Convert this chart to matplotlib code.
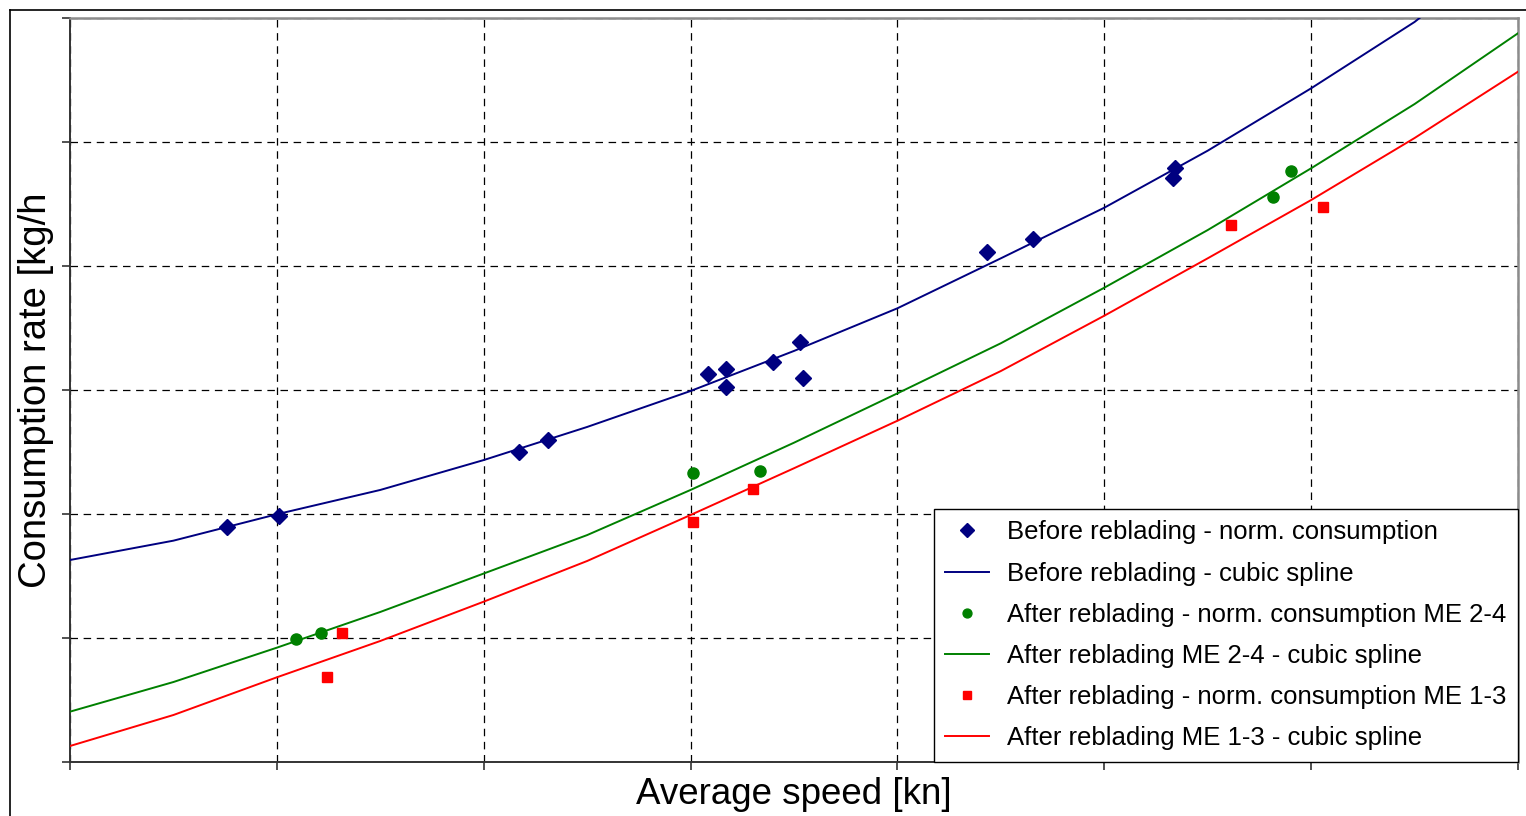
import numpy as np
import matplotlib.pyplot as plt
from matplotlib.lines import Line2D

plt.rcParams['font.family'] = ['Liberation Sans', 'DejaVu Sans']

# measured points (axis has no tick labels, units are grid cells)
before_x = [0.758, 1.012, 2.172, 2.312, 3.083, 3.170, 3.170, 3.397, 3.529, 3.544, 4.433, 4.655, 5.331, 5.342]
before_y = [1.893, 1.986, 2.498, 2.594, 3.129, 3.172, 3.027, 3.223, 3.385, 3.099, 4.113, 4.215, 4.710, 4.788]

after24_x = [1.093, 1.212, 3.012, 3.336, 5.816, 5.903]
after24_y = [0.990, 1.038, 2.333, 2.344, 4.559, 4.764]

after13_x = [1.242, 1.316, 3.012, 3.303, 5.611, 6.057]
after13_y = [0.688, 1.043, 1.933, 2.204, 4.331, 4.478]

# spline curves, sampled every half grid cell
spline_x = [0.0, 0.5, 1.0, 1.5, 2.0, 2.5, 3.0, 3.5, 4.0, 4.5, 5.0, 5.5, 6.0, 6.5, 7.0]
spline_before = [1.629, 1.785, 1.998, 2.194, 2.435, 2.702, 2.992, 3.315, 3.659, 4.062, 4.470, 4.930, 5.433, 5.968, 6.629]
spline_after24 = [0.406, 0.645, 0.922, 1.210, 1.520, 1.830, 2.194, 2.575, 2.973, 3.377, 3.825, 4.290, 4.788, 5.306, 5.877]
spline_after13 = [0.129, 0.379, 0.683, 0.976, 1.293, 1.621, 1.992, 2.369, 2.752, 3.153, 3.599, 4.062, 4.532, 5.032, 5.567]

W, H = 1526, 816
fig = plt.figure(figsize=(W / 100, H / 100), dpi=100)
ax = fig.add_axes([70 / W, (H - 762) / H, (1518 - 70) / W, (762 - 18) / H])

navy, green, red = '#000080', '#008000', '#ff0000'

ax.plot(before_x, before_y, 'D', color=navy, ms=8.5, ls='none', zorder=4,
        label='Before reblading - norm. consumption')
ax.plot(spline_x, spline_before, '-', color=navy, lw=1.4, zorder=3,
        label='Before reblading - cubic spline')
ax.plot(after24_x, after24_y, 'o', color=green, ms=8, ls='none', zorder=4,
        label='After reblading - norm. consumption ME 2-4')
ax.plot(spline_x, spline_after24, '-', color=green, lw=1.4, zorder=3,
        label='After reblading ME 2-4 - cubic spline')
ax.plot(after13_x, after13_y, 's', color=red, ms=7, ls='none', zorder=4,
        label='After reblading - norm. consumption ME 1-3')
ax.plot(spline_x, spline_after13, '-', color=red, lw=1.4, zorder=3,
        label='After reblading ME 1-3 - cubic spline')

ax.set_xlim(0, 7)
ax.set_ylim(0, 6)
ax.set_xticks(np.arange(0, 8))
ax.set_yticks(np.arange(0, 7))
ax.set_xticklabels([])
ax.set_yticklabels([])
ax.tick_params(direction='out', length=6, width=1.2, color='#333333')
ax.grid(True, color='black', lw=0.9, linestyle=(0, (6, 4.5)))
ax.set_axisbelow(True)

for s in ['left', 'bottom']:
    ax.spines[s].set_color('#333333')
    ax.spines[s].set_linewidth(1.4)
for s in ['top', 'right']:
    ax.spines[s].set_color('#8c8c8c')
    ax.spines[s].set_linewidth(1.8)

ax.set_xlabel('Average speed [kn]', fontsize=26.5, labelpad=1)
ax.set_ylabel('Consumption rate [kg/h', fontsize=27.5, labelpad=2)

leg = ax.legend(loc='lower right', bbox_to_anchor=(1.0, 0.0), borderaxespad=0,
                fontsize=18.5, frameon=True, fancybox=False, framealpha=1,
                edgecolor='black', handlelength=1.7, handletextpad=0.7,
                labelspacing=0.67, borderpad=0.45, markerscale=0.8)
leg.get_frame().set_linewidth(1.0)
leg.set_zorder(5)

# outer chart frame
fig.add_artist(Line2D([10 / W, 10 / W], [0, (H - 10) / H], color='black', lw=1.2))
fig.add_artist(Line2D([10 / W, 1], [(H - 10) / H, (H - 10) / H], color='black', lw=1.2))

fig.savefig('out.png', dpi=100)
